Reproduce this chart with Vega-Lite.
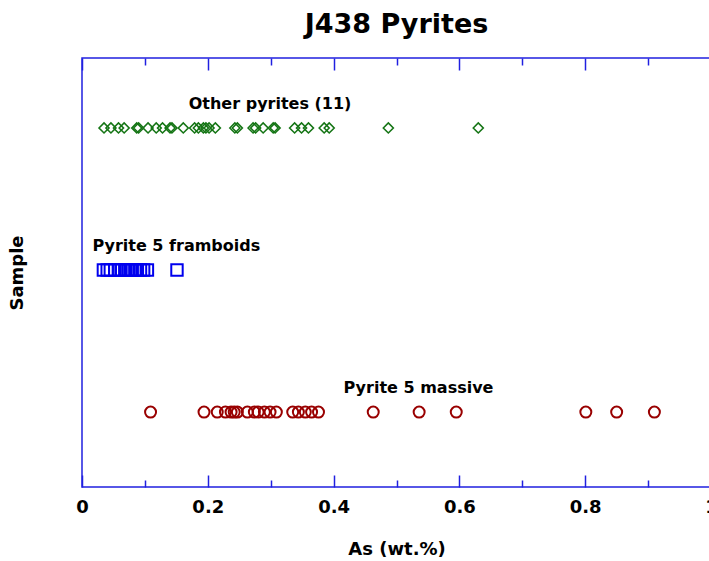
{
  "$schema": "https://vega.github.io/schema/vega-lite/v6.json",
  "autosize": "none",
  "width": 629,
  "height": 429,
  "padding": {"left": 82, "top": 58, "right": 0, "bottom": 74},
  "background": "white",
  "title": {"text": "J438 Pyrites", "font": "DejaVu Sans", "fontSize": 27, "fontWeight": "bold", "color": "black", "anchor": "middle", "offset": 18},
  "config": {
    "view": {"stroke": "#2020e0", "strokeWidth": 1.5},
    "axis": {"grid": false, "domain": false, "tickColor": "#2020e0", "tickWidth": 1.5, "labelFont": "DejaVu Sans", "labelFontWeight": "bold", "labelFontSize": 18, "labelColor": "black", "titleFont": "DejaVu Sans", "titleFontWeight": "bold", "titleFontSize": 18, "titleColor": "black"}
  },
  "datasets": {
    "other": [
      {"sample": "Other pyrites", "as": 0.035}, {"sample": "Other pyrites", "as": 0.046}, {"sample": "Other pyrites", "as": 0.058}, {"sample": "Other pyrites", "as": 0.067},
      {"sample": "Other pyrites", "as": 0.087}, {"sample": "Other pyrites", "as": 0.090}, {"sample": "Other pyrites", "as": 0.105}, {"sample": "Other pyrites", "as": 0.118},
      {"sample": "Other pyrites", "as": 0.128}, {"sample": "Other pyrites", "as": 0.140}, {"sample": "Other pyrites", "as": 0.143}, {"sample": "Other pyrites", "as": 0.161},
      {"sample": "Other pyrites", "as": 0.179}, {"sample": "Other pyrites", "as": 0.185}, {"sample": "Other pyrites", "as": 0.193}, {"sample": "Other pyrites", "as": 0.197},
      {"sample": "Other pyrites", "as": 0.202}, {"sample": "Other pyrites", "as": 0.212}, {"sample": "Other pyrites", "as": 0.243}, {"sample": "Other pyrites", "as": 0.247},
      {"sample": "Other pyrites", "as": 0.272}, {"sample": "Other pyrites", "as": 0.276}, {"sample": "Other pyrites", "as": 0.288}, {"sample": "Other pyrites", "as": 0.304},
      {"sample": "Other pyrites", "as": 0.307}, {"sample": "Other pyrites", "as": 0.338}, {"sample": "Other pyrites", "as": 0.349}, {"sample": "Other pyrites", "as": 0.360},
      {"sample": "Other pyrites", "as": 0.385}, {"sample": "Other pyrites", "as": 0.393}, {"sample": "Other pyrites", "as": 0.487}, {"sample": "Other pyrites", "as": 0.630}
    ],
    "framboids": [
      {"sample": "Pyrite 5 framboids", "as": 0.034}, {"sample": "Pyrite 5 framboids", "as": 0.040}, {"sample": "Pyrite 5 framboids", "as": 0.045}, {"sample": "Pyrite 5 framboids", "as": 0.052},
      {"sample": "Pyrite 5 framboids", "as": 0.058}, {"sample": "Pyrite 5 framboids", "as": 0.062}, {"sample": "Pyrite 5 framboids", "as": 0.068}, {"sample": "Pyrite 5 framboids", "as": 0.073},
      {"sample": "Pyrite 5 framboids", "as": 0.078}, {"sample": "Pyrite 5 framboids", "as": 0.084}, {"sample": "Pyrite 5 framboids", "as": 0.088}, {"sample": "Pyrite 5 framboids", "as": 0.093},
      {"sample": "Pyrite 5 framboids", "as": 0.098}, {"sample": "Pyrite 5 framboids", "as": 0.104}, {"sample": "Pyrite 5 framboids", "as": 0.151}
    ],
    "massive": [
      {"sample": "Pyrite 5 massive", "as": 0.109}, {"sample": "Pyrite 5 massive", "as": 0.194}, {"sample": "Pyrite 5 massive", "as": 0.215}, {"sample": "Pyrite 5 massive", "as": 0.228},
      {"sample": "Pyrite 5 massive", "as": 0.237}, {"sample": "Pyrite 5 massive", "as": 0.242}, {"sample": "Pyrite 5 massive", "as": 0.247}, {"sample": "Pyrite 5 massive", "as": 0.263},
      {"sample": "Pyrite 5 massive", "as": 0.274}, {"sample": "Pyrite 5 massive", "as": 0.280}, {"sample": "Pyrite 5 massive", "as": 0.290}, {"sample": "Pyrite 5 massive", "as": 0.299},
      {"sample": "Pyrite 5 massive", "as": 0.309}, {"sample": "Pyrite 5 massive", "as": 0.335}, {"sample": "Pyrite 5 massive", "as": 0.344}, {"sample": "Pyrite 5 massive", "as": 0.355},
      {"sample": "Pyrite 5 massive", "as": 0.365}, {"sample": "Pyrite 5 massive", "as": 0.376}, {"sample": "Pyrite 5 massive", "as": 0.463}, {"sample": "Pyrite 5 massive", "as": 0.536},
      {"sample": "Pyrite 5 massive", "as": 0.595}, {"sample": "Pyrite 5 massive", "as": 0.801}, {"sample": "Pyrite 5 massive", "as": 0.850}, {"sample": "Pyrite 5 massive", "as": 0.910}
    ],
    "labels": [
      {"sample": "Other pyrites", "as": 0.299, "label": "Other pyrites (11)"},
      {"sample": "Pyrite 5 framboids", "as": 0.150, "label": "Pyrite 5 framboids"},
      {"sample": "Pyrite 5 massive", "as": 0.535, "label": "Pyrite 5 massive"}
    ]
  },
  "layer": [
    {
      "data": {"name": "massive"},
      "mark": {"type": "point", "shape": "circle", "size": 121, "filled": false, "stroke": "#990000", "strokeWidth": 2, "opacity": 1},
      "encoding": {
        "x": {"field": "as", "type": "quantitative", "scale": {"domain": [0, 1], "nice": false, "zero": false},
              "axis": {"orient": "bottom", "values": [0, 0.2, 0.4, 0.6, 0.8, 1], "format": "~g", "tickSize": -12, "labelPadding": 23, "labelFlush": false, "labelOverlap": false, "title": "As (wt.%)", "titlePadding": 24}},
        "y": {"field": "sample", "type": "nominal", "scale": {"type": "point", "padding": 0.51, "align": 0.483, "domain": ["Other pyrites", "Pyrite 5 framboids", "Pyrite 5 massive"]},
              "axis": {"title": "Sample", "labels": false, "ticks": false, "domain": false, "titlePadding": 56}}
      }
    },
    {
      "data": {"name": "framboids"},
      "mark": {"type": "point", "shape": "square", "size": 130, "filled": false, "stroke": "#0000ee", "strokeWidth": 2, "opacity": 1},
      "encoding": {
        "x": {"field": "as", "type": "quantitative", "scale": {"domain": [0, 1], "nice": false, "zero": false},
              "axis": {"orient": "bottom", "values": [0.1, 0.3, 0.5, 0.7, 0.9], "tickSize": -7, "labels": false, "title": null}},
        "y": {"field": "sample", "type": "nominal", "scale": {"type": "point", "padding": 0.51, "align": 0.483, "domain": ["Other pyrites", "Pyrite 5 framboids", "Pyrite 5 massive"]},
              "axis": {"title": "Sample", "labels": false, "ticks": false, "domain": false, "titlePadding": 56}}
      }
    },
    {
      "data": {"name": "other"},
      "mark": {"type": "point", "shape": "diamond", "size": 100, "filled": false, "stroke": "#157515", "strokeWidth": 1.6, "opacity": 1},
      "encoding": {
        "x": {"field": "as", "type": "quantitative", "scale": {"domain": [0, 1], "nice": false, "zero": false},
              "axis": {"orient": "top", "values": [0, 0.2, 0.4, 0.6, 0.8, 1], "tickSize": -12, "labels": false, "title": null}},
        "y": {"field": "sample", "type": "nominal", "scale": {"type": "point", "padding": 0.51, "align": 0.483, "domain": ["Other pyrites", "Pyrite 5 framboids", "Pyrite 5 massive"]},
              "axis": {"title": "Sample", "labels": false, "ticks": false, "domain": false, "titlePadding": 56}}
      }
    },
    {
      "data": {"name": "labels"},
      "mark": {"type": "text", "font": "DejaVu Sans", "fontWeight": "bold", "fontSize": 16, "color": "black", "dy": -24, "align": "center", "baseline": "middle"},
      "encoding": {
        "x": {"field": "as", "type": "quantitative", "scale": {"domain": [0, 1], "nice": false, "zero": false},
              "axis": {"orient": "top", "values": [0.1, 0.3, 0.5, 0.7, 0.9], "tickSize": -7, "labels": false, "title": null}},
        "y": {"field": "sample", "type": "nominal", "scale": {"type": "point", "padding": 0.51, "align": 0.483, "domain": ["Other pyrites", "Pyrite 5 framboids", "Pyrite 5 massive"]},
              "axis": {"title": "Sample", "labels": false, "ticks": false, "domain": false, "titlePadding": 56}},
        "text": {"field": "label", "type": "nominal"}
      }
    }
  ],
  "resolve": {"axis": {"x": "independent"}}
}
